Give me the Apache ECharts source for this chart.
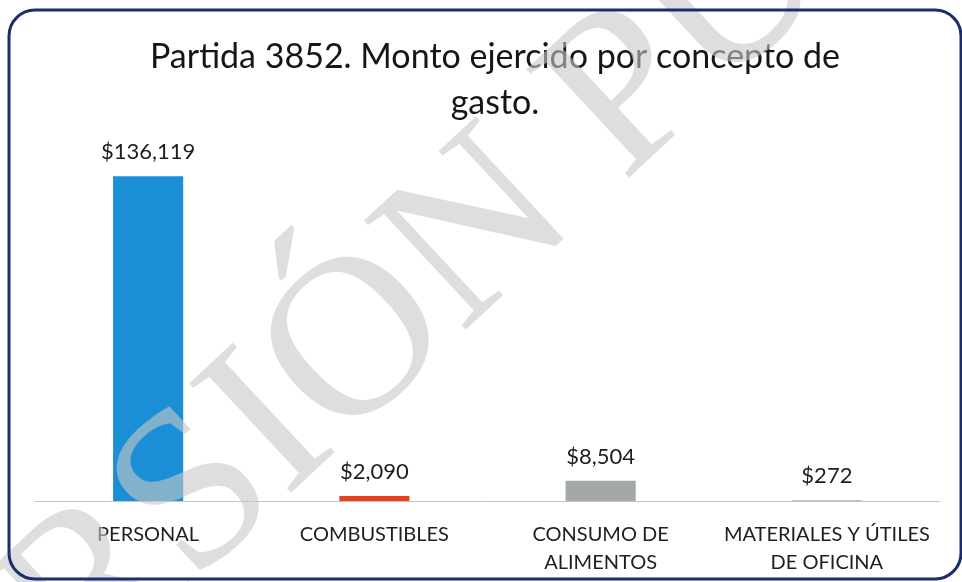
<!DOCTYPE html>
<html>
<head>
<meta charset="utf-8">
<script src="https://cdn.jsdelivr.net/npm/echarts@6/dist/echarts.min.js"></script>
<style>
  html, body { margin: 0; padding: 0; background: #fff; }
  #main { width: 962px; height: 582px; }
</style>
</head>
<body>
<div id="main"></div>
<script>
var myChart = echarts.init(document.getElementById('main'));

var categories = ['PERSONAL', 'COMBUSTIBLES', 'CONSUMO DE\nALIMENTOS', 'MATERIALES Y ÚTILES\nDE OFICINA'];
var montos = [136119, 2090, 8504, 272];
var colores = ['#1b8fd6', '#ea3f1d', '#a4a8a9', '#a4a8a9'];

var option = {
  backgroundColor: '#fff',
  title: {
    text: 'Partida 3852. Monto ejercido por concepto de\ngasto.',
    left: 490,
    textAlign: 'center',
    top: 29,
    textStyle: {
      fontFamily: 'Lato',
      fontWeight: 'normal',
      fontSize: 34,
      lineHeight: 46,
      color: '#161616'
    }
  },
  grid: {
    left: 35,
    right: 22,
    top: 143,
    bottom: 81
  },
  xAxis: {
    type: 'category',
    data: categories,
    axisLine: { lineStyle: { color: '#c4c4c4', width: 1 } },
    axisTick: { show: false },
    axisLabel: {
      interval: 0,
      margin: 20,
      fontFamily: 'Lato',
      fontSize: 20,
      lineHeight: 28,
      color: '#1e1e1e'
    }
  },
  yAxis: {
    type: 'value',
    min: 0,
    max: 150000,
    show: false,
    splitLine: { show: false }
  },
  series: [
    {
      type: 'bar',
      barWidth: '31%',
      data: montos.map(function (v, i) {
        return { value: v, itemStyle: { color: colores[i] } };
      }),
      label: {
        show: true,
        position: 'top',
        distance: 13,
        fontFamily: 'Lato',
        fontSize: 22,
        color: '#1e1e1e',
        formatter: function (p) {
          return '$' + p.value.toLocaleString('en-US');
        }
      }
    }
  ],
  graphic: [
    {
      type: 'rect',
      z: 100,
      shape: { x: 9, y: 10, width: 952, height: 569, r: 26 },
      style: { fill: 'none', stroke: '#1c2d6b', lineWidth: 3 }
    },
    {
      // marca de agua
      type: 'text',
      z: 90,
      x: -182,
      y: 852,
      rotation: 43 * Math.PI / 180,
      style: {
        text: 'VERSIÓN PÚBLICA',
        fontFamily: 'Liberation Serif',
        fontSize: 228,
        align: 'left',
        verticalAlign: 'middle',
        fill: 'rgba(200,200,200,0.6)'
      }
    }
  ]
};

myChart.setOption(option);
</script>
</body>
</html>
